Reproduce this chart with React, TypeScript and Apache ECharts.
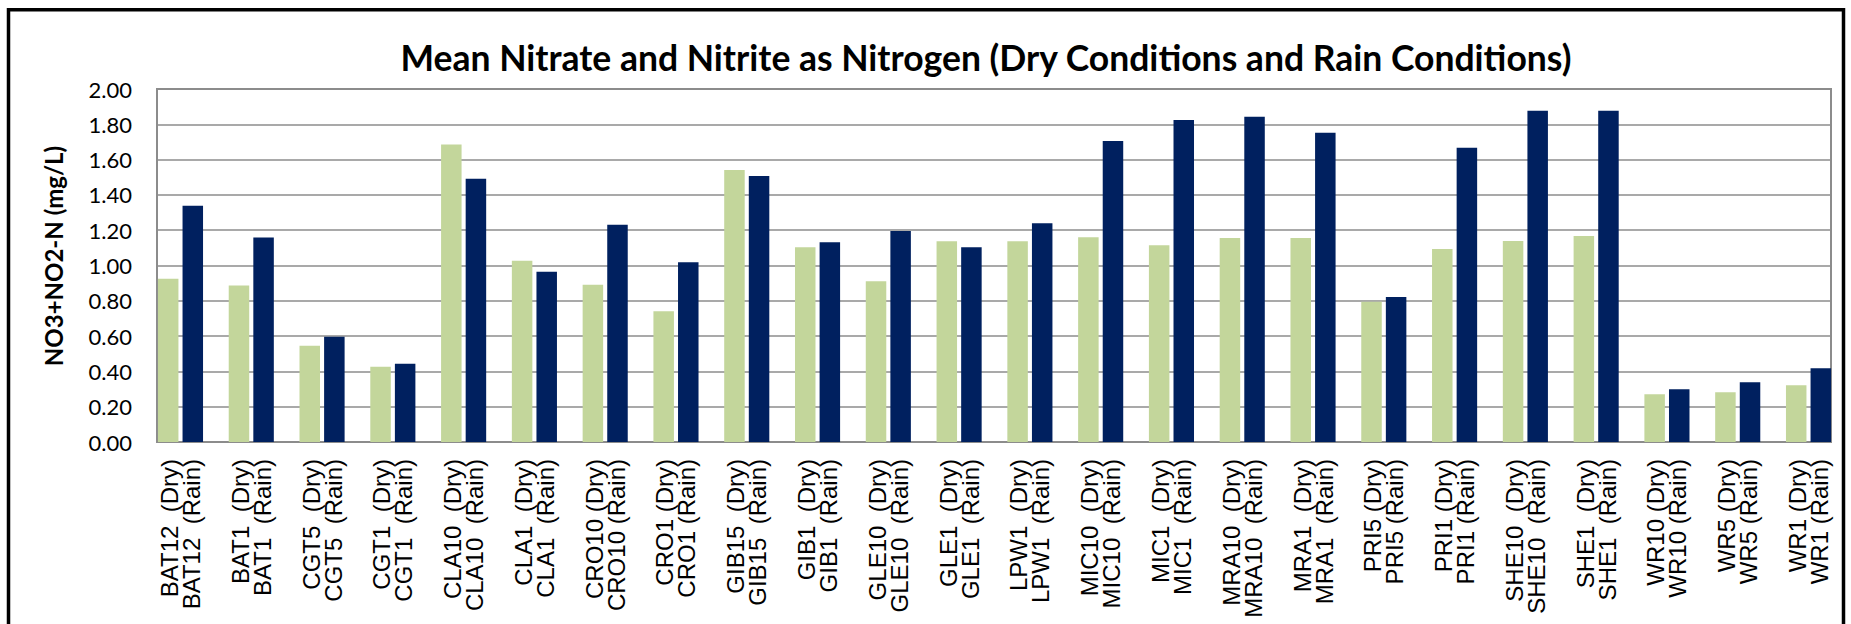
import React, { useEffect, useRef } from "react";
import * as echarts from "echarts";

const sites = [
  "BAT12", "BAT1", "CGT5", "CGT1", "CLA10", "CLA1", "CRO10", "CRO1",
  "GIB15", "GIB1", "GLE10", "GLE1", "LPW1", "MIC10", "MIC1", "MRA10",
  "MRA1", "PRI5", "PRI1", "SHE10", "SHE1", "WR10", "WR5", "WR1",
];
// sites whose label uses a single space before the condition
const singleSpaceSites = ["CRO10", "CRO1", "PRI5", "PRI1", "WR10", "WR5", "WR1"];

const dryValues = [
  0.925, 0.886, 0.546, 0.427, 1.685, 1.027, 0.891, 0.741,
  1.541, 1.104, 0.911, 1.138, 1.138, 1.16, 1.115, 1.156,
  1.156, 0.795, 1.094, 1.139, 1.167, 0.271, 0.282, 0.322,
];
const rainValues = [
  1.339, 1.158, 0.597, 0.444, 1.492, 0.965, 1.231, 1.019,
  1.507, 1.132, 1.195, 1.104, 1.24, 1.705, 1.824, 1.843,
  1.752, 0.821, 1.667, 1.877, 1.877, 0.299, 0.339, 0.418,
];
const yTicks = { min: 0, max: 2, interval: 0.2 };

const titleText = "Mean Nitrate and Nitrite as Nitrogen (Dry Conditions and Rain Conditions)";
const yName = "NO3+NO2-N (mg/L)";

const tickLabels = sites.map((s) => {
  const sep = singleSpaceSites.includes(s) ? " " : "  ";
  return `${s}${sep}(Dry)\n${s}${sep}(Rain)`;
});

export default function App() {
  const ref = useRef<HTMLDivElement>(null);
  useEffect(() => {
    document.documentElement.style.overflow = "hidden";
    const chart = echarts.init(ref.current!, undefined, { renderer: "svg" });
    const gridLine = "#8c8c8c";
    chart.setOption({
      animation: false,
      backgroundColor: "#ffffff",
      grid: [
        {
          left: 157,
          top: 89,
          width: 1674,
          height: 353,
          show: true,
          borderColor: gridLine,
          borderWidth: 2,
          backgroundColor: "transparent",
        },
        {
          left: 145.1,
          top: 89,
          width: 1698.8,
          height: 353,
        },
      ],
      xAxis: [
        { type: "value", gridIndex: 0, show: false, min: 0, max: 1 },
        {
          type: "category",
          gridIndex: 1,
          data: sites,
          axisLine: { show: false },
          axisTick: { show: false },
          axisLabel: {
            interval: 0,
            rotate: 90,
            margin: 17,
            fontFamily: "Liberation Sans",
            fontSize: 24,
            lineHeight: 22,
            color: "#000",
            formatter: (_v: string, i: number) => tickLabels[i],
          },
        },
      ],
      yAxis: [
        {
          type: "value",
          gridIndex: 0,
          min: yTicks.min,
          max: yTicks.max,
          interval: yTicks.interval,
          axisLine: { show: false },
          axisTick: { show: false },
          splitLine: { show: true, lineStyle: { color: gridLine, width: 1.5 } },
          axisLabel: {
            margin: 25,
            fontFamily: "Lato",
            fontSize: 22,
            color: "#000",
            formatter: (v: number) => v.toFixed(2),
          },
        },
        {
          type: "value",
          gridIndex: 1,
          min: yTicks.min,
          max: yTicks.max,
          interval: yTicks.interval,
          show: false,
          splitLine: { show: false },
        },
      ],
      series: [
        {
          name: "Dry",
          type: "bar",
          xAxisIndex: 1,
          yAxisIndex: 1,
          data: dryValues,
          barWidth: 20.5,
          barGap: "20%",
          itemStyle: { color: "#c3d69b" },
        },
        {
          name: "Rain",
          type: "bar",
          xAxisIndex: 1,
          yAxisIndex: 1,
          data: rainValues,
          barWidth: 20.5,
          barGap: "20%",
          itemStyle: { color: "#00205f" },
        },
      ],
      graphic: [
        {
          type: "rect",
          shape: { x: 8.5, y: 9.75, width: 1835, height: 700 },
          style: { fill: "none", stroke: "#000", lineWidth: 3.5 },
          z: 100,
        },
        {
          type: "text",
          x: 986,
          y: 57.5,
          style: {
            text: titleText,
            fontFamily: "Lato",
            fontWeight: "bold",
            fontSize: 35.5,
            fill: "#000",
            textAlign: "center",
            textVerticalAlign: "middle",
          },
        },
        {
          type: "text",
          x: 53,
          y: 256,
          rotation: Math.PI / 2,
          style: {
            text: yName,
            fontFamily: "Lato",
            fontWeight: "bold",
            fontSize: 24,
            fill: "#000",
            textAlign: "center",
            textVerticalAlign: "middle",
          },
        },
      ],
    });
    return () => chart.dispose();
  }, []);
  return (
    <div
      ref={ref}
      style={{ position: "absolute", left: 0, top: 0, width: 1851, height: 624, background: "#fff" }}
    />
  );
}
